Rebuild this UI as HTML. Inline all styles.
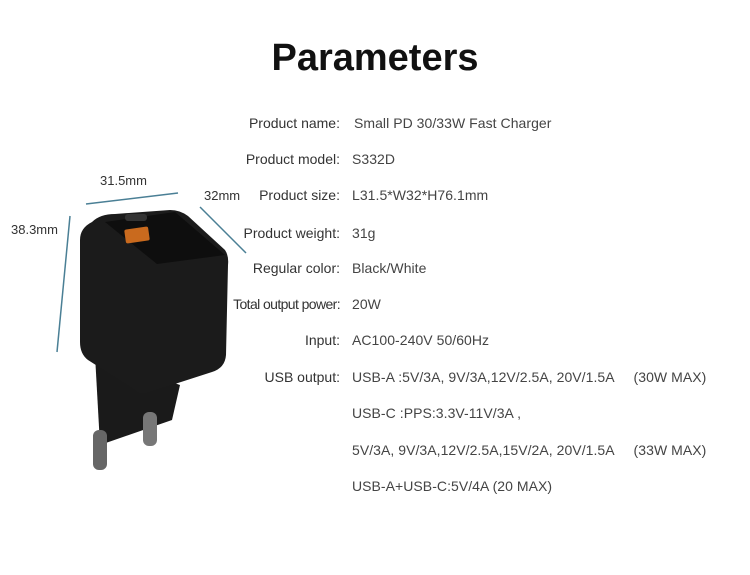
<!DOCTYPE html>
<html><head><style>
body{margin:0;width:750px;height:575px;background:#fff;position:relative;font-family:"Liberation Sans",sans-serif;overflow:hidden}
h1{position:absolute;top:37px;left:0;width:750px;text-align:center;margin:0;font-size:38px;font-weight:bold;color:#111}
.l{position:absolute;right:410px;font-size:14px;color:#333;white-space:nowrap}
.v{position:absolute;left:352px;font-size:14px;color:#444;white-space:nowrap;letter-spacing:0.05px}
.m{position:absolute;font-size:13px;color:#333}
</style></head><body>
<h1>Parameters</h1>
<div class="l" style="top:115px">Product name:</div><div class="v" style="top:115px;left:354px">Small PD 30/33W Fast Charger</div>
<div class="l" style="top:151px">Product model:</div><div class="v" style="top:151px">S332D</div>
<div class="l" style="top:187px">Product size:</div><div class="v" style="top:187px">L31.5*W32*H76.1mm</div>
<div class="l" style="top:225px">Product weight:</div><div class="v" style="top:225px">31g</div>
<div class="l" style="top:260px">Regular color:</div><div class="v" style="top:260px">Black/White</div>
<div class="l" style="top:296px;letter-spacing:-0.6px">Total output power:</div><div class="v" style="top:296px">20W</div>
<div class="l" style="top:332px">Input:</div><div class="v" style="top:332px">AC100-240V 50/60Hz</div>
<div class="l" style="top:369px">USB output:</div><div class="v" style="top:369px">USB-A :5V/3A, 9V/3A,12V/2.5A, 20V/1.5A &nbsp;&nbsp;&nbsp;&nbsp;(30W MAX)</div>
<div class="v" style="top:405px">USB-C :PPS:3.3V-11V/3A ,</div>
<div class="v" style="top:442px">5V/3A, 9V/3A,12V/2.5A,15V/2A, 20V/1.5A &nbsp;&nbsp;&nbsp;&nbsp;(33W MAX)</div>
<div class="v" style="top:478px">USB-A+USB-C:5V/4A (20 MAX)</div>
<div class="m" style="left:100px;top:173px">31.5mm</div>
<div class="m" style="left:204px;top:188px">32mm</div>
<div class="m" style="left:11px;top:222px">38.3mm</div>
<svg width="750" height="575" style="position:absolute;left:0;top:0">
<g stroke="#4a7f95" stroke-width="1.5">
<line x1="86" y1="204" x2="178" y2="193"/>
<line x1="200" y1="207" x2="246" y2="253"/>
<line x1="70" y1="216" x2="57" y2="352"/>
</g>
<polygon points="95,355 180,385 172,420 100,445" fill="#1a1a1a"/>
<rect x="93" y="430" width="14" height="40" rx="6" fill="#666"/>
<rect x="143" y="412" width="14" height="34" rx="6" fill="#777"/>
<path d="M92,222 Q100,214 115,214 L170,210 Q180,210 188,216 L225,250 Q229,256 228,265 L226,355 Q225,368 212,372 L150,392 Q140,396 135,390 L88,360 Q80,354 80,342 L80,240 Q80,228 92,222Z" fill="#1b1b1b"/>
<path d="M105,222 L175,212 L225,255 L157,264 Z" fill="#0e0e0e"/>
<rect x="125" y="228" width="24" height="14" rx="2" fill="#c96a1e" transform="rotate(-8 137 235)"/>
<rect x="125" y="214" width="22" height="7" rx="3" fill="#333"/>
</svg>
</body></html>
